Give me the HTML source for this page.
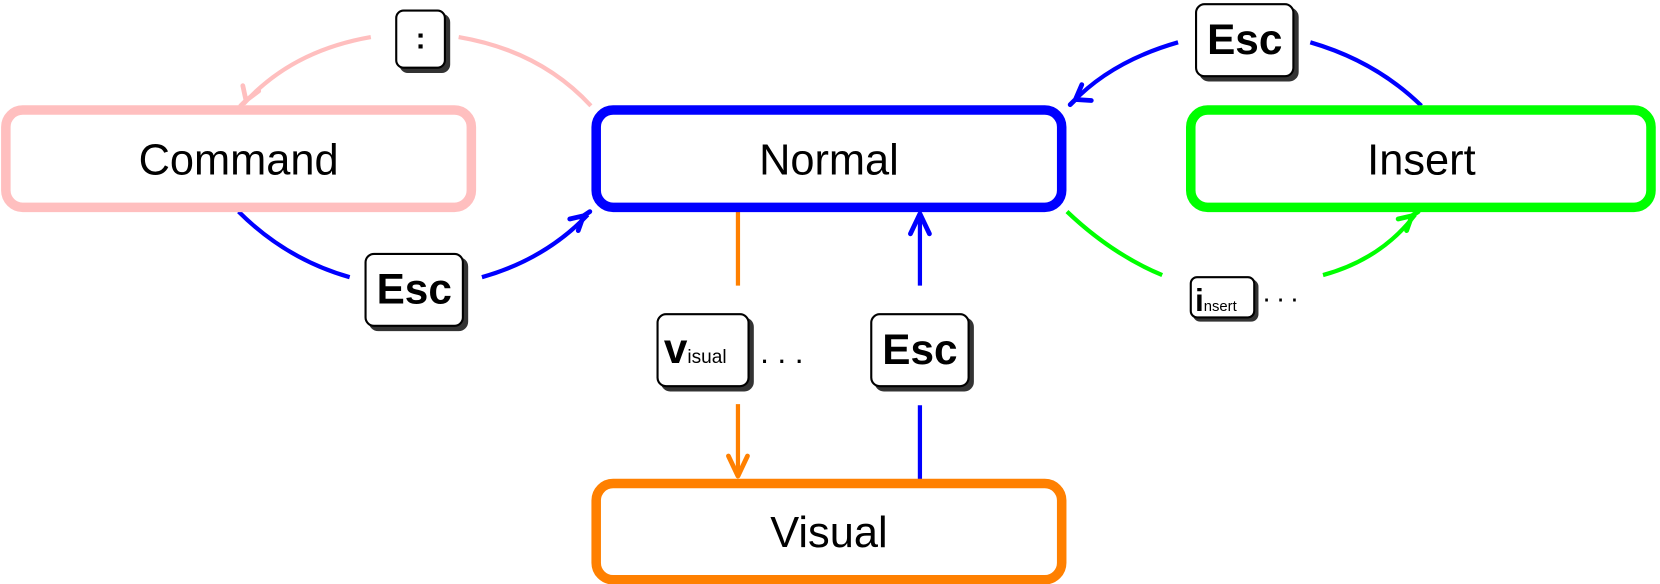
<!DOCTYPE html>
<html><head><meta charset="utf-8"><style>html,body{margin:0;padding:0;background:#fff}svg{display:block}</style></head>
<body>
<svg width="1660" height="584" viewBox="0 0 1568 552" xmlns="http://www.w3.org/2000/svg" font-family="Liberation Sans, sans-serif">
<g fill="none" stroke-width="4" stroke-linecap="butt">
<path d="M558,100 Q510,48 433,35" stroke="#ffbfbf"/>
<path d="M350,35 Q275,48 230,98" stroke="#ffbfbf"/>
<path d="M227,100 L232,95 L244,86 M232,95 L229,81" stroke="#ffbfbf" stroke-width="4.5" stroke-linecap="round" stroke-linejoin="round"/>
<path d="M225,200 Q270,245 330,262" stroke="#0000ff"/>
<path d="M455,262 Q515,245 555,203" stroke="#0000ff"/>
<path d="M557,200 L551,204 L538,207 M551,204 L546,218" stroke="#0000ff" stroke-width="4.5" stroke-linecap="round" stroke-linejoin="round"/>
<path d="M1343,100 Q1300,58 1238,40" stroke="#0000ff"/>
<path d="M1113,40 Q1050,58 1013,97" stroke="#0000ff"/>
<path d="M1011,99 L1016,94 L1022,80 M1016,94 L1031,95" stroke="#0000ff" stroke-width="4.5" stroke-linecap="round" stroke-linejoin="round"/>
<path d="M1008,200 Q1050,240 1098,260" stroke="#00ff00"/>
<path d="M1250,260 Q1305,245 1337,203" stroke="#00ff00"/>
<path d="M1340,200 L1334,204 L1321,207 M1334,204 L1329,218" stroke="#00ff00" stroke-width="4.5" stroke-linecap="round" stroke-linejoin="round"/>
<path d="M697,200 V270 M697,382 V450" stroke="#ff8000"/>
<path d="M688,431 L697,450 L706,431" stroke="#ff8000" stroke-width="4.5" stroke-linecap="round" stroke-linejoin="round"/>
<path d="M869,455 V383 M869,270 V205" stroke="#0000ff"/>
<path d="M860,221 L869,202 L878,221" stroke="#0000ff" stroke-width="4.5" stroke-linecap="round" stroke-linejoin="round"/>
</g>
<g fill="#fff" stroke-width="9">
<rect x="5" y="104" width="440" height="92" rx="16" stroke="#ffbfbf"/>
<rect x="563" y="104" width="440" height="92" rx="16" stroke="#0000ff"/>
<rect x="1125" y="104" width="435" height="92" rx="16" stroke="#00ff00"/>
<rect x="563" y="457" width="440" height="91" rx="16" stroke="#ff8000"/>
</g>
<g font-size="41" text-anchor="middle" fill="#000">
<text x="225" y="165">Command</text>
<text x="783" y="165">Normal</text>
<text x="1343" y="165">Insert</text>
<text x="783" y="517">Visual</text>
</g>
<g stroke="#000" stroke-width="2">
<rect x="378" y="14" width="46" height="54" rx="7" fill="#333" stroke="#333"/>
<rect x="374" y="10" width="46" height="54" rx="7" fill="#fff"/>
<rect x="1134" y="8" width="92" height="68" rx="8" fill="#333" stroke="#333"/>
<rect x="1130" y="4" width="92" height="68" rx="8" fill="#fff"/>
<rect x="349" y="244" width="92" height="68" rx="8" fill="#333" stroke="#333"/>
<rect x="345" y="240" width="92" height="68" rx="8" fill="#fff"/>
<rect x="827" y="301" width="92" height="68" rx="8" fill="#333" stroke="#333"/>
<rect x="823" y="297" width="92" height="68" rx="8" fill="#fff"/>
<rect x="625" y="301" width="86" height="68" rx="8" fill="#333" stroke="#333"/>
<rect x="621" y="297" width="86" height="68" rx="8" fill="#fff"/>
<rect x="1128" y="265" width="60" height="38" rx="6" fill="#333" stroke="#333"/>
<rect x="1125" y="262" width="60" height="38" rx="6" fill="#fff"/>
</g>
<g fill="#000" text-anchor="middle" font-weight="bold">
<text x="397" y="46" font-size="28">:</text>
<text x="1176" y="51" font-size="40">Esc</text>
<text x="391" y="287" font-size="40">Esc</text>
<text x="869" y="344" font-size="40">Esc</text>
</g>
<text x="627" y="343" font-size="40" font-weight="bold">v<tspan font-size="18" font-weight="normal">isual</tspan></text>
<text x="1129" y="294" font-size="30" font-weight="bold">i<tspan font-size="14" font-weight="normal">nsert</tspan></text>
<text x="718" y="343" font-size="30" letter-spacing="8">...</text>
<text x="1193" y="285" font-size="26" letter-spacing="6">...</text>
</svg>
</body></html>
